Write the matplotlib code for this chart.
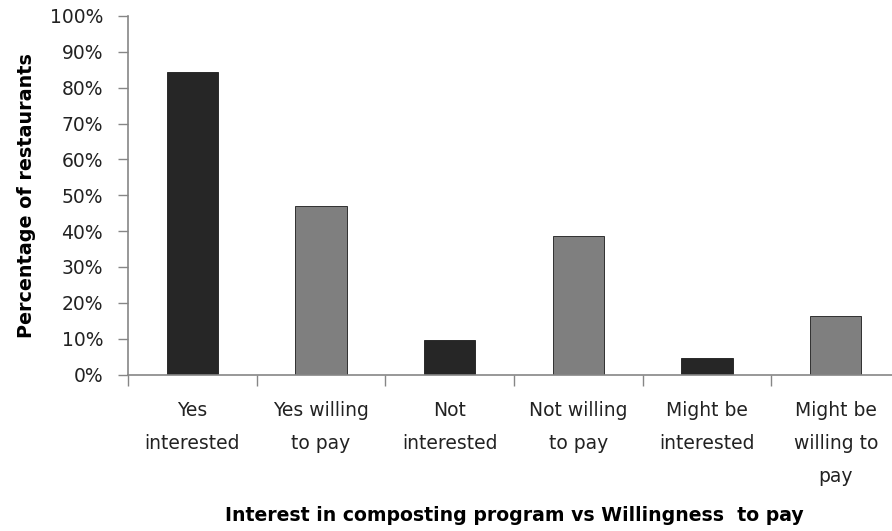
import matplotlib
matplotlib.use('Agg')
import matplotlib.pyplot as plt
from matplotlib.ticker import PercentFormatter, FixedLocator

categories = ['Yes\ninterested', 'Yes willing\nto pay',
              'Not\ninterested', 'Not willing\nto pay',
              'Might be\ninterested', 'Might be\nwilling to\npay']
percentages = [84.4, 47.0, 9.6, 38.6, 4.6, 16.3]
bar_colors = ['#262626', '#7f7f7f', '#262626', '#7f7f7f', '#262626', '#7f7f7f']


def plot_interest_vs_willingness():
  plt.rcParams['font.family'] = ['DejaVu Sans']
  fig = plt.figure(figsize=(8.92, 5.31), dpi=100)
  # right edge of the category axis runs slightly past the figure
  ax = fig.add_axes([0.1435, 0.2947, 0.8655, 0.6752])

  x = range(len(categories))
  ax.bar(x, [p / 100 for p in percentages],
         width=0.4,
         color=bar_colors,
         edgecolor='#1a1a1a',
         linewidth=0.6)

  ax.set_xlim(-0.5, len(categories) - 0.5)
  ax.set_ylim(0, 1)
  ax.set_yticks([i / 10 for i in range(11)])
  ax.yaxis.set_major_formatter(PercentFormatter(xmax=1, decimals=0))

  ax.set_xticks(list(x))
  ax.set_xticklabels(categories, linespacing=1.95, fontsize=13.5, color='#222222')
  ax.xaxis.set_minor_locator(FixedLocator([i - 0.5 for i in range(len(categories) + 1)]))
  ax.tick_params(axis='x', which='major', length=0, pad=19)
  ax.tick_params(axis='x', which='minor', length=8, width=1, color='#868686', direction='out')
  ax.tick_params(axis='y', length=7, width=1, color='#868686', direction='out',
                 labelsize=13.5, labelcolor='#222222', pad=11)

  for side in ['top', 'right']:
    ax.spines[side].set_visible(False)
  for side in ['left', 'bottom']:
    ax.spines[side].set_color('#868686')
    ax.spines[side].set_linewidth(1.2)

  ax.set_ylabel('Percentage of restaurants', fontsize=13.8, fontweight='bold', labelpad=10)
  ax.set_xlabel('Interest in composting program vs Willingness  to pay',
                fontsize=13.6, fontweight='bold', labelpad=14)

  fig.savefig('out.png', dpi=100)


def main():
  plot_interest_vs_willingness()

if __name__ == '__main__':
  main()
